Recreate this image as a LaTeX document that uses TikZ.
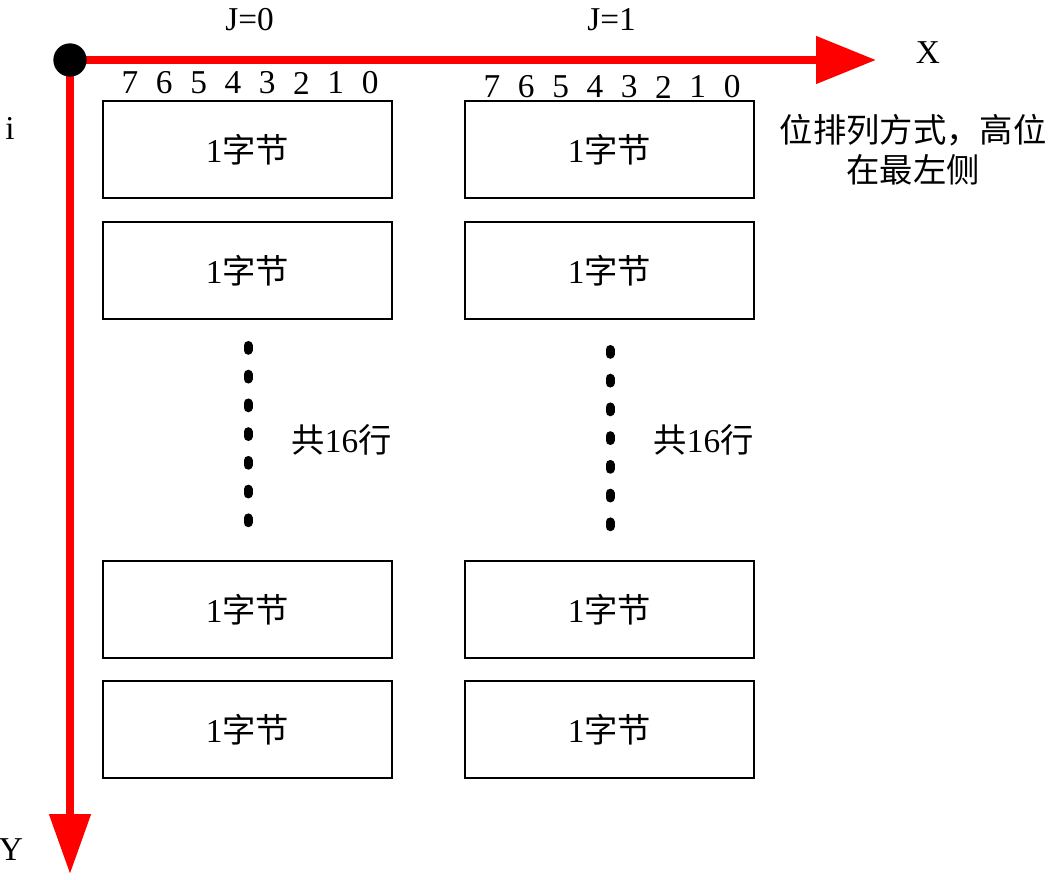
\documentclass[tikz,border=0pt]{standalone}
\usepackage{fontspec}
\setmainfont{Liberation Serif}
\newfontfamily\cjk{Noto Sans CJK SC}
\usetikzlibrary{arrows.meta}

\tikzset{
  axis/.style={red, line width=6pt},
  lbl/.style={font=\fontsize{25}{30}\selectfont, inner sep=0pt},
  bytebox/.style={draw, line width=2.1pt, minimum width=216.75pt,
    minimum height=72.75pt, inner sep=0pt, font=\fontsize{25}{30}\selectfont},
  rowdots/.style={line width=6.75pt, line cap=round, dash pattern=on 3.6pt off 17.95pt},
}

\begin{document}
\begin{tikzpicture}[x=0.75pt, y=-0.75pt]
  \useasboundingbox (0,0) rectangle (1052,880);
  % axes
  \coordinate (o) at (70,60);
  \coordinate (xend) at (876,60);
  \coordinate (yend) at (70,874);
  \draw[axis, -{Triangle[length=45pt, width=34.5pt]}] (o) -- (xend);
  \draw[axis, -{Triangle[length=45pt, width=30pt]}] (o) -- (yend);
  \fill (o) circle (12.5pt);
  \node[lbl] (xlab) at (928,53) {X};
  \node[lbl] (ylab) at (11,850) {Y};
  \node[lbl] (ilab) at (10,128) {i};
  % two columns of bytes
  \foreach \col/\cx/\dy in {0/247.5/0, 1/609.5/4} {
    \node[lbl] (j\col) at ({\cx+2},20) {J=\col};
    \foreach \b [count=\k from 0] in {7,6,5,4,3,2,1,0}
      \node[lbl] (bit\col\b) at ({\cx-117.5+34.3*\k},{83+\dy}) {\b};
    \node[bytebox] (row\col a) at (\cx,149.5) {1{\cjk 字节}};
    \node[bytebox] (row\col b) at (\cx,270.5) {1{\cjk 字节}};
    \node[bytebox] (row\col c) at (\cx,609.5) {1{\cjk 字节}};
    \node[bytebox] (row\col d) at (\cx,729.5) {1{\cjk 字节}};
    \coordinate (dtop\col) at ({\cx+0.5},{345.5+\dy});
    \coordinate (dbot\col) at ({\cx+0.5},{523+\dy});
    \draw[rowdots] (dtop\col) -- (dbot\col);
    \node[lbl] (cnt\col) at ({\cx+94},440) {{\cjk 共}16{\cjk 行}};
  }
  % note on bit order
  \node[lbl, align=center] (note) at (913,150) {\cjk 位排列方式，高位\\\cjk 在最左侧};
\end{tikzpicture}
\end{document}
